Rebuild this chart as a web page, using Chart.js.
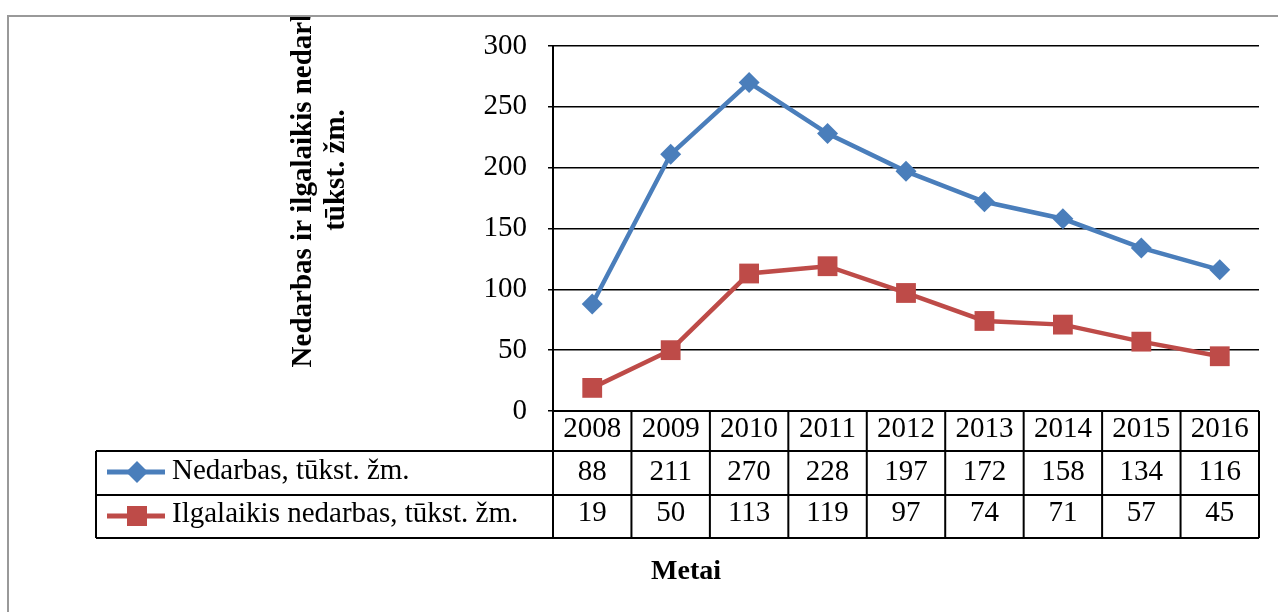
<!DOCTYPE html>
<html>
<head>
<meta charset="utf-8">
<script src="https://cdn.jsdelivr.net/npm/chart.js@4"></script>
<style>
  body { margin: 0; background: #fff; }
  canvas { display: block; }
</style>
</head>
<body>
<canvas id="myChart" width="1278" height="612"></canvas>
<script>
const YEARS = ['2008', '2009', '2010', '2011', '2012', '2013', '2014', '2015', '2016'];
const NEDARBAS = [88, 211, 270, 228, 197, 172, 158, 134, 116];
const ILGALAIKIS = [19, 50, 113, 119, 97, 74, 71, 57, 45];
const SERIES_NAMES = ['Nedarbas, tūkst. žm.', 'Ilgalaikis nedarbas, tūkst. žm.'];
const Y_TITLE = ['Nedarbas ir ilgalaikis nedarbas,', 'tūkst. žm.'];
const X_TITLE = 'Metai';

const BLUE = '#4A7EBB';
const RED = '#BE4B48';
const SERIF = '"Liberation Serif", "Times New Roman", serif';

// excel style data table + titles, drawn under the plot
const tablePlugin = {
    id: 'dataTable',
    afterDraw(chart) {
        const ctx = chart.ctx;
        const x = chart.scales.x;
        const area = chart.chartArea;
        const colW = (area.right - area.left) / YEARS.length;
        const rows = [area.bottom, 451, 495, 538];
        const legLeft = 96;

        ctx.save();
        // outer frame
        ctx.strokeStyle = '#999';
        ctx.lineWidth = 2;
        ctx.beginPath();
        ctx.moveTo(8, 612); ctx.lineTo(8, 16); ctx.lineTo(1278, 16);
        ctx.stroke();

        // table lines
        ctx.strokeStyle = '#000';
        ctx.lineWidth = 2;
        ctx.beginPath();
        ctx.moveTo(area.left, rows[0]); ctx.lineTo(area.right, rows[0]);
        for (let r = 1; r < rows.length; r++) {
            ctx.moveTo(legLeft, rows[r]); ctx.lineTo(area.right, rows[r]);
        }
        for (let i = 0; i <= YEARS.length; i++) {
            const cx = area.left + i * colW;
            ctx.moveTo(cx, rows[0]); ctx.lineTo(cx, rows[3]);
        }
        ctx.moveTo(legLeft, rows[1]); ctx.lineTo(legLeft, rows[3]);
        ctx.stroke();

        // table text
        ctx.fillStyle = '#000';
        ctx.font = '29px ' + SERIF;
        ctx.textAlign = 'center';
        ctx.textBaseline = 'alphabetic';
        YEARS.forEach((yr, i) => {
            const cx = x.getPixelForValue(i);
            ctx.fillText(yr, cx, 437);
            ctx.fillText(String(NEDARBAS[i]), cx, 480);
            ctx.fillText(String(ILGALAIKIS[i]), cx, 521);
        });

        // legend keys
        ctx.textAlign = 'left';
        ctx.fillText(SERIES_NAMES[0], 172, 479);
        ctx.fillText(SERIES_NAMES[1], 172, 522);
        ctx.lineWidth = 5;
        ctx.strokeStyle = BLUE;
        ctx.beginPath(); ctx.moveTo(107, 472); ctx.lineTo(165, 472); ctx.stroke();
        ctx.fillStyle = BLUE;
        ctx.beginPath();
        ctx.moveTo(137, 461); ctx.lineTo(148, 472); ctx.lineTo(137, 483); ctx.lineTo(126, 472);
        ctx.closePath(); ctx.fill();
        ctx.strokeStyle = RED;
        ctx.beginPath(); ctx.moveTo(107, 516); ctx.lineTo(165, 516); ctx.stroke();
        ctx.fillStyle = RED;
        ctx.fillRect(127, 506, 20, 20);

        // axis titles
        ctx.fillStyle = '#000';
        ctx.font = 'bold 28px ' + SERIF;
        ctx.textAlign = 'center';
        ctx.fillText(X_TITLE, 686, 579);

        ctx.beginPath();
        ctx.rect(9, 17, 600, 500);
        ctx.clip();
        ctx.font = 'bold 29px ' + SERIF;
        ctx.translate(0, 170);
        ctx.rotate(-Math.PI / 2);
        ctx.fillText(Y_TITLE[0], 0, 311);
        ctx.fillText(Y_TITLE[1], 0, 344);
        ctx.restore();
    }
};

function THE_CHART() {
    const ctx = document.getElementById('myChart');
    new Chart(ctx, {
        type: 'line',
        data: {
            labels: YEARS,
            datasets: [{
                label: SERIES_NAMES[0],
                data: NEDARBAS,
                borderColor: BLUE,
                backgroundColor: BLUE,
                borderWidth: 4.5,
                pointStyle: 'rectRot',
                pointRadius: 10.5,
                pointBorderWidth: 0,
                tension: 0
            }, {
                label: SERIES_NAMES[1],
                data: ILGALAIKIS,
                borderColor: RED,
                backgroundColor: RED,
                borderWidth: 4.5,
                pointStyle: 'rect',
                pointRadius: 14,
                pointBorderWidth: 0,
                tension: 0
            }]
        },
        options: {
            responsive: false,
            animation: false,
            devicePixelRatio: 1,
            layout: { padding: { left: 0, top: 46, right: 19, bottom: 201 } },
            plugins: {
                legend: { display: false },
                tooltip: { enabled: false }
            },
            scales: {
                x: { type: 'category', display: false, offset: true },
                y: {
                    min: 0,
                    max: 300,
                    afterFit: function(scale) { scale.width = 553; },
                    ticks: {
                        stepSize: 50,
                        color: '#000',
                        padding: 21,
                        font: { family: SERIF, size: 29 }
                    },
                    grid: { color: '#000', lineWidth: 1.5, tickLength: 5 },
                    border: { color: '#000', width: 2 }
                }
            }
        },
        plugins: [tablePlugin]
    });
}
THE_CHART();
</script>
</body>
</html>
